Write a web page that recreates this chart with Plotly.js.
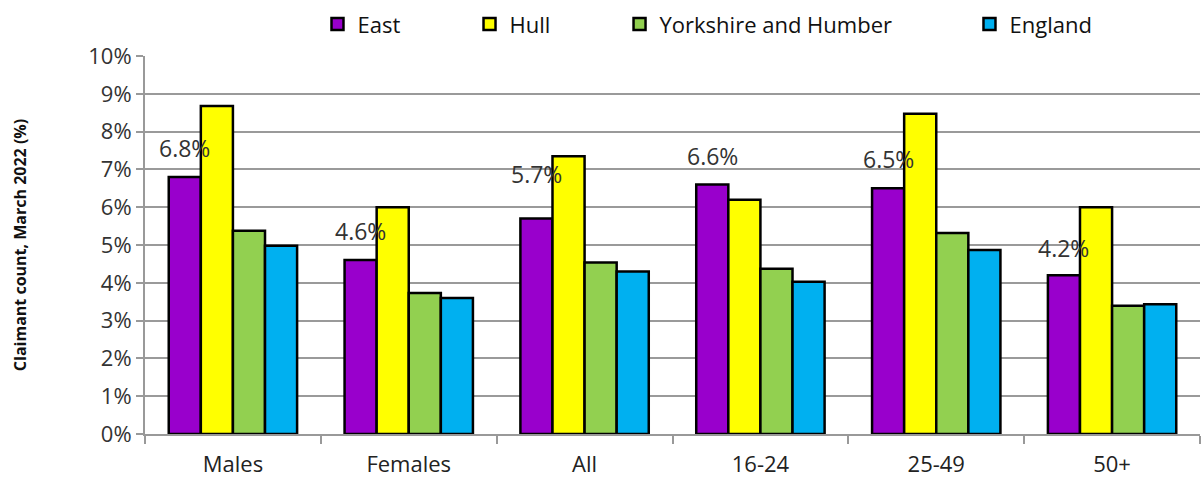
<!DOCTYPE html>
<html>
<head>
<meta charset="utf-8">
<script src="https://cdn.plot.ly/plotly-3.0.1.min.js"></script>
<style>
html,body{margin:0;padding:0;background:#fff;}
#chart{width:1203px;height:482px;}
</style>
</head>
<body>
<div id="chart"></div>
<script>
var categories = ["Males", "Females", "All", "16-24", "25-49", "50+"];
var east = [6.8, 4.6, 5.7, 6.6, 6.5, 4.2];
var hull = [8.68, 6.0, 7.35, 6.2, 8.47, 6.0];
var yorkshire = [5.38, 3.73, 4.54, 4.37, 5.32, 3.39];
var england = [4.98, 3.6, 4.3, 4.03, 4.87, 3.43];
var eastLabels = ["6.8%", "4.6%", "5.7%", "6.6%", "6.5%", "4.2%"];
var seriesNames = ["East", "Hull", "Yorkshire and Humber", "England"];
var seriesColors = ["#9900CC", "#FFFF00", "#92D050", "#00B0F0"];
var yTickVals = [0,1,2,3,4,5,6,7,8,9,10];
var yTickText = ["0%","1%","2%","3%","4%","5%","6%","7%","8%","9%","10%"];

// layout-only settings
var labelLift = [18, 18, 34, 18, 18, 16];           // px above East bar top
var legendX = [0.1635, 0.3076, 0.4498, 0.7815];     // paper x of each legend entry

var FONT = "Open Sans, Liberation Sans, sans-serif";
var seriesData = [east, hull, yorkshire, england];
var legendIds = ["legend", "legend2", "legend3", "legend4"];
var traces = seriesData.map(function(d, k){
  return {
    type: "bar",
    name: seriesNames[k],
    x: categories,
    y: d,
    legend: legendIds[k],
    marker: {color: seriesColors[k], line: {color: "#000", width: 2.5}},
    hoverinfo: "skip"
  };
});

var bargap = 0.27;
var groupW = 1 - bargap;
var barW = groupW / seriesData.length;
var eastOffset = -groupW/2 + barW/2;
var annotations = east.map(function(v, i){
  return {
    x: i + eastOffset, y: v, xref: "x", yref: "y",
    text: eastLabels[i], showarrow: false,
    yanchor: "bottom", yshift: labelLift[i] - 7,
    font: {family: FONT, size: 23, color: "#333"}
  };
});

var layout = {
  width: 1203, height: 482,
  margin: {l: 145, r: 3, t: 54, b: 48},
  paper_bgcolor: "#fff", plot_bgcolor: "#fff",
  barmode: "group", bargap: bargap, bargroupgap: 0,
  font: {family: FONT, color: "#333"},
  showlegend: true,
  xaxis: {
    type: "category", showgrid: false, showline: true, linecolor: "#999", linewidth: 2,
    ticks: "outside", tickson: "boundaries", ticklen: 8, tickcolor: "#999", tickwidth: 2,
    ticklabelstandoff: 10,
    tickfont: {family: FONT, size: 22, color: "#222"}, zeroline: false
  },
  yaxis: {
    range: [0, 10], tickvals: yTickVals, ticktext: yTickText,
    showgrid: true, gridcolor: "#9a9a9a", gridwidth: 2,
    showline: true, linecolor: "#999", linewidth: 2,
    ticks: "outside", ticklen: 7, tickcolor: "#999", tickwidth: 2,
    tickfont: {family: FONT, size: 22, color: "#333"}, zeroline: false,
    title: {text: "<b>Claimant count, March 2022 (%)</b>", font: {family: FONT, size: 16, color: "#111"}, standoff: 58}
  },
  annotations: annotations
};
legendIds.forEach(function(id, k){
  layout[id] = {orientation: "h", x: legendX[k], xanchor: "left", y: 1.084, yanchor: "middle",
                font: {family: FONT, size: 22, color: "#111"}, itemwidth: 30, bgcolor: "rgba(0,0,0,0)"};
});

Plotly.newPlot("chart", traces, layout, {displayModeBar: false, staticPlot: true});
</script>
</body>
</html>
